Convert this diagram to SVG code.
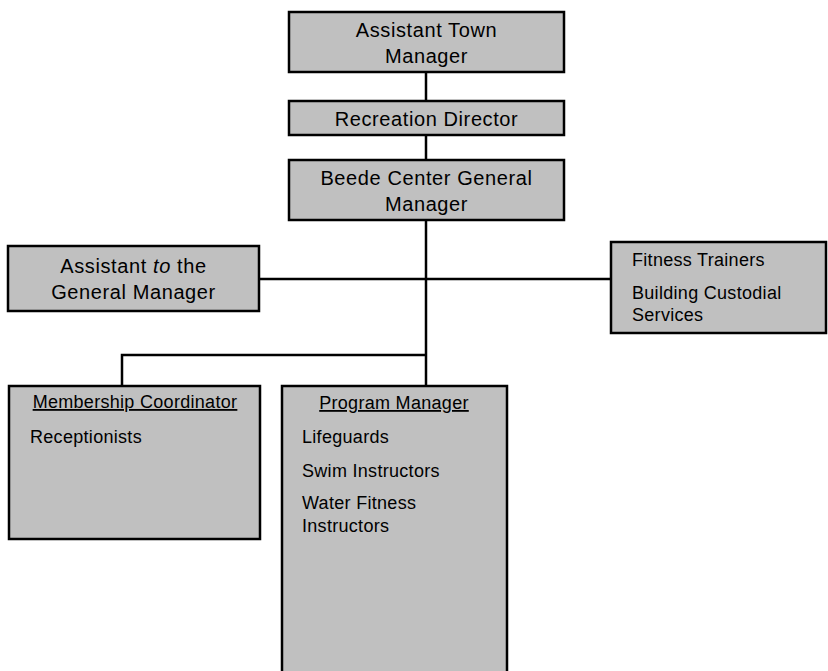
<svg xmlns="http://www.w3.org/2000/svg" width="828" height="671" viewBox="0 0 828 671">
<style>
.box{fill:#c0c0c0;stroke:#000;stroke-width:2.5}
.t{font-family:"Liberation Sans",Arial,sans-serif;font-size:20px;letter-spacing:0.6px;fill:#000}
.s{font-family:"Liberation Sans",Arial,sans-serif;font-size:18px;letter-spacing:0.3px;fill:#000}
.c{text-anchor:middle}
.ln{stroke:#000;stroke-width:2.5;fill:none}
</style>
<rect width="828" height="671" fill="#fff"/>
<g id="connectors">
<line class="ln" x1="426" y1="72" x2="426" y2="101"/>
<line class="ln" x1="426" y1="135" x2="426" y2="160"/>
<line class="ln" x1="426" y1="220" x2="426" y2="386"/>
<line class="ln" x1="259" y1="279" x2="612" y2="279"/>
<polyline class="ln" points="122,386 122,355 426,355"/>
</g>
<g id="assistant-town-manager">
<rect class="box" x="289" y="12" width="275" height="60"/>
<text class="t c" x="426.5" y="37">Assistant Town</text>
<text class="t c" x="426.5" y="63">Manager</text>
</g>
<g id="recreation-director">
<rect class="box" x="289" y="101" width="275" height="34"/>
<text class="t c" x="426.5" y="126">Recreation Director</text>
</g>
<g id="beede-center-general-manager">
<rect class="box" x="289" y="160" width="275" height="60"/>
<text class="t c" x="426.5" y="185">Beede Center General</text>
<text class="t c" x="426.5" y="211">Manager</text>
</g>
<g id="assistant-to-gm">
<rect class="box" x="8" y="246" width="251" height="65"/>
<text class="t c" x="133.5" y="273">Assistant <tspan font-style="italic">to</tspan> the</text>
<text class="t c" x="133.5" y="299">General Manager</text>
</g>
<g id="fitness-building">
<rect class="box" x="611" y="242" width="215" height="91"/>
<text class="s" x="632" y="266">Fitness Trainers</text>
<text class="s" x="632" y="299">Building Custodial</text>
<text class="s" x="632" y="321">Services</text>
</g>
<g id="membership-coordinator">
<rect class="box" x="9" y="386" width="251" height="153"/>
<text class="s c" x="135" y="408" text-decoration="underline">Membership Coordinator</text>
<text class="s" x="30" y="443">Receptionists</text>
</g>
<g id="program-manager">
<rect class="box" x="282" y="386" width="225" height="300"/>
<text class="s c" x="394" y="409" text-decoration="underline">Program Manager</text>
<text class="s" x="302" y="443">Lifeguards</text>
<text class="s" x="302" y="477">Swim Instructors</text>
<text class="s" x="302" y="509">Water Fitness</text>
<text class="s" x="302" y="532">Instructors</text>
</g>
</svg>
